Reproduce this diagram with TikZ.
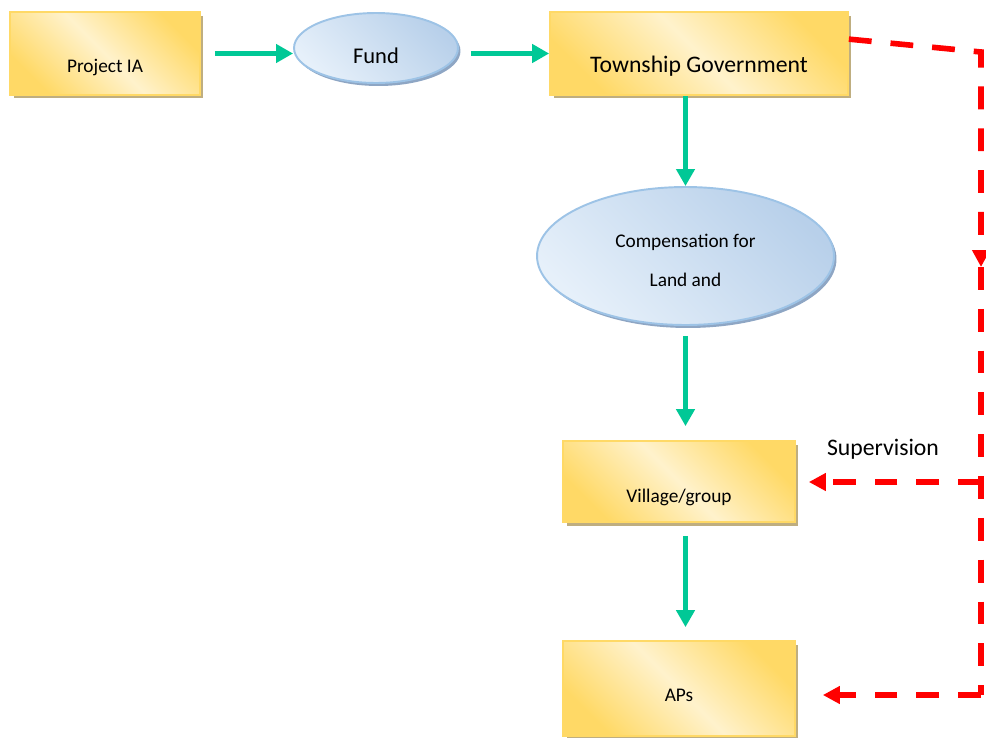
\documentclass[tikz,border=0pt]{standalone}
\usepackage{fontspec}
\setmainfont{Carlito}
\usepackage{tikz}
\usetikzlibrary{shapes.geometric,shadows,arrows.meta}
\definecolor{golddark}{HTML}{FFD966}
\definecolor{goldlight}{HTML}{FFF2CC}
\definecolor{shadowtan}{HTML}{BFAE80}
\definecolor{bluedark}{HTML}{B8D0EA}
\definecolor{bluelight}{HTML}{E6F0FA}
\definecolor{blueline}{HTML}{9DC3E6}
\definecolor{blueshadow}{HTML}{8EA6C4}
\definecolor{flowgreen}{HTML}{00C896}
\definecolor{superred}{HTML}{FF0000}
\newcommand{\droptext}[2]{\raisebox{-#1}[0pt][0pt]{#2}}
\tikzstyle{yellowbox} = [rectangle, draw=golddark, line width=1pt,
    left color=golddark, right color=golddark, middle color=goldlight, shading angle=135,
    general shadow={fill=shadowtan, shadow xshift=0.07cm, shadow yshift=-0.07cm},
    inner sep=0, font=\fontsize{11}{13}\selectfont]
\tikzstyle{blueoval} = [ellipse, draw=blueline, line width=1.1pt,
    top color=bluelight, bottom color=bluedark, shading angle=135,
    general shadow={fill=blueshadow, shadow xshift=0.05cm, shadow yshift=-0.06cm},
    inner sep=0, font=\fontsize{11}{13}\selectfont]
\tikzstyle{flowarrow} = [draw=flowgreen, line width=3.2pt,
    -{Triangle[length=0.34cm, width=0.36cm]}]
\tikzstyle{superline} = [draw=superred, line width=3.2pt, dash pattern=on 13pt off 10.8pt]
\tikzstyle{superarrow} = [superline, -{Triangle[length=0.34cm, width=0.34cm]}]

\begin{document}
\begin{tikzpicture}[x=0.02cm, y=-0.02cm]
\useasboundingbox (0,0) rectangle (986,737);
\node [yellowbox, minimum width=3.8cm, minimum height=1.66cm] (projectia) at (105,53.5)
    {\droptext{0.39cm}{Project IA}};
\node [blueoval, minimum width=3.28cm, minimum height=1.4cm, font=\fontsize{12.8}{15}\selectfont] (fund) at (376,48)
    {\droptext{0.31cm}{Fund}};
\node [yellowbox, minimum width=5.96cm, minimum height=1.66cm, font=\fontsize{13.5}{16}\selectfont] (township) at (699,53.5)
    {\droptext{0.39cm}{Township Government}};
\node [blueoval, minimum width=5.94cm, minimum height=2.76cm] (comp) at (685.5,256)
    {\droptext{6.4pt}{\begin{tabular}{@{}c@{}}Compensation for\\[9.7pt]Land and\end{tabular}}};
\node [yellowbox, minimum width=4.64cm, minimum height=1.62cm] (village) at (679,481.5)
    {\droptext{0.41cm}{Village/group}};
\node [yellowbox, minimum width=4.64cm, minimum height=1.9cm] (aps) at (679,688.5)
    {\droptext{0.26cm}{APs}};
\node [font=\fontsize{13.5}{16}\selectfont] (supervision) at (883,449) {Supervision};

\draw [flowarrow, shorten <=0.28cm] (projectia.east) -- (projectia.east -| fund.west);
\draw [flowarrow, shorten <=0.24cm] (fund.east |- township.west) -- (township.west);
\draw [flowarrow] (township.south -| comp.north) -- (comp.north);
\draw [flowarrow, shorten <=0.2cm, shorten >=0.28cm] (comp.south) -- (comp.south |- village.north);
\draw [flowarrow, shorten <=0.26cm, shorten >=0.26cm] (village.south -| comp.south) -- (aps.north -| comp.south);

\coordinate (cornertop) at (981,52);
\coordinate (midtip) at (981,267);
\coordinate (cornermid) at (981,482);
\coordinate (cornerbot) at (981,695);
\draw [superarrow] ([yshift=-0.56cm]township.north east) -- (cornertop) -- (midtip);
\draw [superline] (midtip) -- (cornerbot);
\draw [superarrow, shorten >=0.26cm] (cornermid) -- (village.east |- cornermid);
\draw [superarrow, shorten >=0.54cm] (cornerbot) -- (aps.east |- cornerbot);
\end{tikzpicture}
\end{document}
